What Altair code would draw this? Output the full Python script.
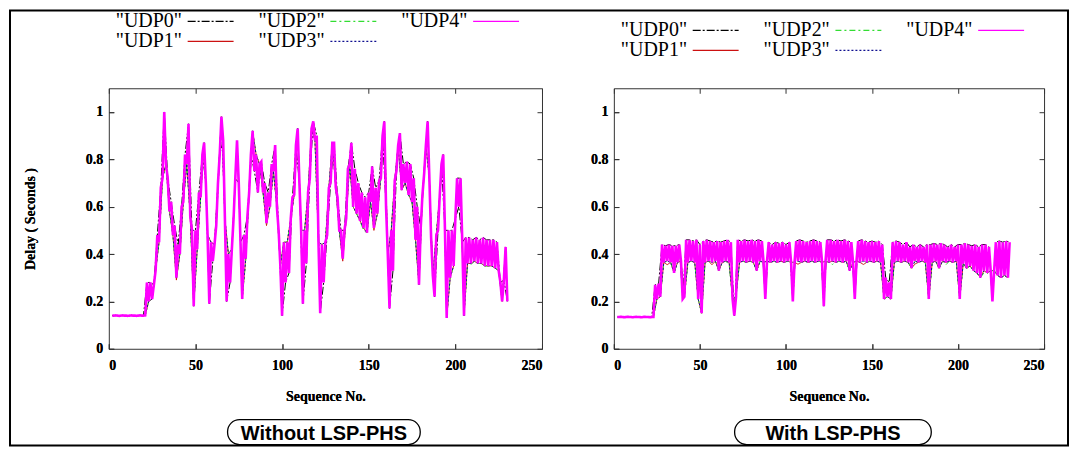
import altair as alt
import pandas as pd

# ---------------- data ----------------
SERIES = ['"UDP0"', '"UDP1"', '"UDP2"', '"UDP3"', '"UDP4"']
SERIES_COLORS = ["#000000", "#cc1111", "#33dd33", "#101090", "#ff00ff"]
SERIES_DASHES = [[8, 2, 2, 2], [1, 0], [6, 3, 2, 3], [2, 2], [1, 0]]

X_TICKS = [0, 50, 100, 150, 200, 250]
Y_TICKS = [0, 0.2, 0.4, 0.6, 0.8, 1.0]

SEQ_ALL = list(range(2, 231))       # UDP4 sample points
SEQ_EVEN = list(range(2, 231, 2))   # UDP0 sample points
SEQ_ODD = list(range(3, 230, 2))    # UDP1..UDP3 sample points

# ---- left panel: Without LSP-PHS ----
L_UDP4 = [
    0.14, 0.14, 0.141, 0.14, 0.139, 0.14, 0.141, 0.14, 0.14, 0.139,
    0.14, 0.141, 0.14, 0.14, 0.139, 0.14, 0.141, 0.14, 0.14, 0.141,
    0.28, 0.2, 0.28, 0.21, 0.27, 0.33, 0.48, 0.45, 0.68, 0.72,
    1.0, 0.78, 0.72, 0.58, 0.62, 0.48, 0.52, 0.3, 0.44, 0.4,
    0.6, 0.62, 0.82, 0.78, 0.95, 0.56, 0.5, 0.18, 0.5, 0.42,
    0.66, 0.64, 0.82, 0.87, 0.7, 0.48, 0.19, 0.45, 0.37, 0.44,
    0.52, 0.7, 0.82, 0.98, 0.88, 0.55, 0.2, 0.4, 0.28, 0.42,
    0.55, 0.72, 0.88, 0.7, 0.45, 0.21, 0.48, 0.38, 0.56, 0.66,
    0.82, 0.92, 0.75, 0.82, 0.66, 0.78, 0.79, 0.66, 0.7, 0.53,
    0.66, 0.6, 0.78, 0.75, 0.86, 0.6, 0.5, 0.35, 0.14, 0.45,
    0.28, 0.45, 0.32, 0.55, 0.64, 0.65, 0.86, 0.93, 0.7, 0.5,
    0.19, 0.5, 0.36, 0.66, 0.72, 0.93, 0.96, 0.88, 0.9, 0.45,
    0.15, 0.44, 0.28, 0.45, 0.48, 0.68, 0.7, 0.87, 0.87, 0.68,
    0.64, 0.5, 0.5, 0.38, 0.5, 0.55, 0.76, 0.78, 0.87, 0.6,
    0.76, 0.57, 0.7, 0.54, 0.66, 0.51, 0.64, 0.49, 0.66, 0.62,
    0.77, 0.51, 0.68, 0.57, 0.71, 0.72, 0.9, 0.96, 0.6, 0.4,
    0.17, 0.5, 0.33, 0.71, 0.75, 0.86, 0.91, 0.67, 0.78, 0.7,
    0.79, 0.65, 0.78, 0.62, 0.72, 0.46, 0.6, 0.27, 0.51, 0.65,
    0.74, 0.86, 0.96, 0.72, 0.47, 0.31, 0.22, 0.48, 0.5, 0.65,
    0.78, 0.82, 0.5, 0.13, 0.5, 0.3, 0.5, 0.35, 0.55, 0.72,
    0.6, 0.72, 0.45, 0.14, 0.47, 0.36, 0.47, 0.36, 0.46, 0.37,
    0.47, 0.36, 0.46, 0.36, 0.47, 0.35, 0.46, 0.35, 0.46, 0.35,
    0.46, 0.34, 0.45, 0.33, 0.28, 0.2, 0.29, 0.43, 0.2,
]
L_UDP0 = [
    0.14, 0.141, 0.139, 0.141, 0.14, 0.14, 0.14, 0.139, 0.141, 0.14,
    0.28, 0.28, 0.27, 0.48, 0.68, 1.0, 0.72, 0.62, 0.52, 0.44,
    0.6, 0.82, 0.95, 0.5, 0.5, 0.66, 0.82, 0.7, 0.19, 0.37,
    0.52, 0.82, 0.88, 0.2, 0.28, 0.55, 0.88, 0.45, 0.48, 0.56,
    0.82, 0.75, 0.66, 0.79, 0.7, 0.66, 0.78, 0.86, 0.5, 0.14,
    0.28, 0.32, 0.64, 0.86, 0.7, 0.19, 0.36, 0.72, 0.96, 0.9,
    0.15, 0.28, 0.48, 0.7, 0.87, 0.64, 0.5, 0.5, 0.76, 0.87,
    0.76, 0.7, 0.66, 0.64, 0.66, 0.77, 0.68, 0.71, 0.9, 0.6,
    0.17, 0.33, 0.75, 0.91, 0.78, 0.79, 0.78, 0.72, 0.6, 0.51,
    0.74, 0.96, 0.47, 0.22, 0.5, 0.78, 0.5, 0.5, 0.5, 0.55,
    0.6, 0.45, 0.47, 0.47, 0.46, 0.47, 0.46, 0.47, 0.46, 0.46,
    0.46, 0.45, 0.28, 0.29, 0.2,
]
L_UDP1 = [
    0.14, 0.14, 0.14, 0.14, 0.139, 0.141, 0.14, 0.14, 0.14, 0.141,
    0.2, 0.21, 0.33, 0.45, 0.72, 0.78, 0.58, 0.48, 0.29, 0.4,
    0.62, 0.78, 0.56, 0.18, 0.42, 0.64, 0.87, 0.48, 0.45, 0.44,
    0.7, 0.98, 0.55, 0.4, 0.42, 0.72, 0.7, 0.21, 0.38, 0.66,
    0.92, 0.82, 0.78, 0.66, 0.52, 0.6, 0.75, 0.6, 0.35, 0.45,
    0.45, 0.55, 0.65, 0.93, 0.5, 0.5, 0.66, 0.93, 0.88, 0.45,
    0.44, 0.45, 0.68, 0.87, 0.68, 0.5, 0.37, 0.55, 0.78, 0.6,
    0.57, 0.54, 0.51, 0.49, 0.62, 0.5, 0.57, 0.72, 0.96, 0.4,
    0.5, 0.71, 0.86, 0.67, 0.7, 0.65, 0.62, 0.46, 0.27, 0.65,
    0.86, 0.72, 0.31, 0.48, 0.65, 0.82, 0.13, 0.3, 0.35, 0.72,
    0.72, 0.14, 0.36, 0.36, 0.37, 0.36, 0.36, 0.35, 0.35, 0.35,
    0.34, 0.33, 0.2, 0.43,
]
L_UDP2 = [
    0.14, 0.14, 0.14, 0.14, 0.139, 0.141, 0.14, 0.14, 0.14, 0.141,
    0.2, 0.21, 0.33, 0.45, 0.72, 0.78, 0.58, 0.48, 0.3, 0.4,
    0.62, 0.78, 0.56, 0.18, 0.42, 0.64, 0.87, 0.48, 0.45, 0.44,
    0.7, 0.98, 0.55, 0.4, 0.42, 0.72, 0.7, 0.21, 0.37, 0.66,
    0.92, 0.82, 0.78, 0.66, 0.53, 0.6, 0.75, 0.6, 0.35, 0.45,
    0.45, 0.55, 0.65, 0.93, 0.5, 0.5, 0.66, 0.93, 0.88, 0.45,
    0.44, 0.45, 0.68, 0.87, 0.68, 0.5, 0.38, 0.55, 0.78, 0.6,
    0.57, 0.54, 0.5, 0.49, 0.62, 0.51, 0.57, 0.72, 0.96, 0.4,
    0.5, 0.71, 0.86, 0.67, 0.7, 0.65, 0.62, 0.46, 0.27, 0.65,
    0.86, 0.72, 0.31, 0.48, 0.65, 0.82, 0.13, 0.3, 0.35, 0.72,
    0.72, 0.14, 0.36, 0.355, 0.37, 0.36, 0.36, 0.35, 0.35, 0.35,
    0.34, 0.33, 0.2, 0.43,
]
L_UDP3 = [
    0.14, 0.14, 0.14, 0.14, 0.139, 0.141, 0.14, 0.14, 0.14, 0.141,
    0.2, 0.21, 0.33, 0.45, 0.72, 0.78, 0.58, 0.48, 0.3, 0.4,
    0.62, 0.78, 0.56, 0.18, 0.42, 0.64, 0.87, 0.48, 0.45, 0.44,
    0.7, 0.98, 0.55, 0.4, 0.42, 0.72, 0.7, 0.21, 0.38, 0.66,
    0.92, 0.82, 0.78, 0.66, 0.53, 0.6, 0.75, 0.6, 0.35, 0.45,
    0.45, 0.55, 0.65, 0.93, 0.5, 0.5, 0.66, 0.93, 0.88, 0.45,
    0.44, 0.45, 0.68, 0.87, 0.68, 0.5, 0.38, 0.55, 0.78, 0.6,
    0.57, 0.54, 0.51, 0.49, 0.62, 0.51, 0.57, 0.72, 0.96, 0.4,
    0.5, 0.71, 0.86, 0.67, 0.7, 0.65, 0.62, 0.46, 0.27, 0.65,
    0.86, 0.72, 0.31, 0.48, 0.65, 0.82, 0.13, 0.3, 0.35, 0.72,
    0.72, 0.14, 0.36, 0.36, 0.37, 0.36, 0.36, 0.35, 0.35, 0.35,
    0.34, 0.33, 0.2, 0.43,
]

# ---- right panel: With LSP-PHS ----
R_UDP4 = [
    0.134, 0.134, 0.135, 0.134, 0.133, 0.134, 0.135, 0.134, 0.134, 0.133,
    0.134, 0.135, 0.134, 0.134, 0.133, 0.134, 0.135, 0.134, 0.134, 0.133,
    0.134, 0.134, 0.27, 0.21, 0.275, 0.22, 0.44, 0.365, 0.435, 0.37,
    0.44, 0.365, 0.435, 0.32, 0.435, 0.365, 0.44, 0.37, 0.21, 0.22,
    0.46, 0.365, 0.46, 0.37, 0.455, 0.365, 0.46, 0.21, 0.44, 0.15,
    0.455, 0.365, 0.46, 0.37, 0.455, 0.365, 0.45, 0.37, 0.455, 0.33,
    0.45, 0.365, 0.455, 0.37, 0.46, 0.365, 0.45, 0.21, 0.14, 0.22,
    0.46, 0.365, 0.455, 0.37, 0.46, 0.365, 0.455, 0.37, 0.46, 0.365,
    0.455, 0.33, 0.46, 0.37, 0.455, 0.365, 0.21, 0.37, 0.45, 0.365,
    0.44, 0.37, 0.45, 0.365, 0.445, 0.37, 0.45, 0.365, 0.44, 0.37,
    0.45, 0.365, 0.2, 0.365, 0.455, 0.37, 0.46, 0.365, 0.455, 0.37,
    0.45, 0.365, 0.455, 0.37, 0.46, 0.365, 0.455, 0.37, 0.45, 0.365,
    0.18, 0.37, 0.46, 0.365, 0.46, 0.37, 0.455, 0.365, 0.46, 0.37,
    0.455, 0.365, 0.46, 0.37, 0.455, 0.33, 0.45, 0.365, 0.21, 0.37,
    0.455, 0.365, 0.46, 0.37, 0.455, 0.365, 0.45, 0.37, 0.455, 0.365,
    0.45, 0.37, 0.455, 0.365, 0.44, 0.21, 0.3, 0.22, 0.28, 0.21,
    0.45, 0.365, 0.455, 0.37, 0.45, 0.365, 0.44, 0.37, 0.45, 0.365,
    0.43, 0.34, 0.44, 0.37, 0.43, 0.365, 0.44, 0.37, 0.43, 0.365,
    0.44, 0.21, 0.44, 0.365, 0.445, 0.37, 0.44, 0.34, 0.445, 0.37,
    0.44, 0.365, 0.43, 0.37, 0.44, 0.365, 0.43, 0.37, 0.44, 0.21,
    0.44, 0.36, 0.445, 0.34, 0.44, 0.35, 0.435, 0.33, 0.44, 0.32,
    0.43, 0.3, 0.44, 0.33, 0.44, 0.32, 0.43, 0.33, 0.2, 0.33,
    0.45, 0.31, 0.455, 0.3, 0.45, 0.31, 0.455, 0.3, 0.45,
]
R_UDP0 = [
    0.134, 0.135, 0.133, 0.135, 0.134, 0.134, 0.134, 0.133, 0.135, 0.134,
    0.134, 0.27, 0.275, 0.44, 0.435, 0.44, 0.435, 0.435, 0.44, 0.21,
    0.46, 0.46, 0.455, 0.46, 0.44, 0.455, 0.46, 0.455, 0.45, 0.455,
    0.45, 0.455, 0.46, 0.45, 0.14, 0.46, 0.455, 0.46, 0.455, 0.46,
    0.455, 0.46, 0.455, 0.21, 0.45, 0.44, 0.45, 0.445, 0.45, 0.44,
    0.45, 0.2, 0.455, 0.46, 0.455, 0.45, 0.455, 0.46, 0.455, 0.45,
    0.18, 0.46, 0.46, 0.455, 0.46, 0.455, 0.46, 0.455, 0.45, 0.21,
    0.455, 0.46, 0.455, 0.45, 0.455, 0.45, 0.455, 0.44, 0.3, 0.28,
    0.45, 0.455, 0.45, 0.44, 0.45, 0.43, 0.44, 0.43, 0.44, 0.43,
    0.44, 0.44, 0.445, 0.44, 0.445, 0.44, 0.43, 0.44, 0.43, 0.44,
    0.44, 0.445, 0.44, 0.435, 0.44, 0.43, 0.44, 0.44, 0.43, 0.2,
    0.45, 0.455, 0.45, 0.455, 0.45,
]
R_UDP1 = [
    0.134, 0.134, 0.134, 0.134, 0.133, 0.135, 0.134, 0.134, 0.134, 0.133,
    0.134, 0.21, 0.22, 0.365, 0.355, 0.365, 0.32, 0.365, 0.37, 0.22,
    0.365, 0.37, 0.365, 0.21, 0.15, 0.365, 0.37, 0.355, 0.37, 0.33,
    0.365, 0.37, 0.365, 0.21, 0.22, 0.365, 0.37, 0.365, 0.37, 0.365,
    0.33, 0.37, 0.365, 0.37, 0.365, 0.37, 0.365, 0.37, 0.365, 0.37,
    0.365, 0.365, 0.357, 0.365, 0.37, 0.365, 0.37, 0.365, 0.37, 0.365,
    0.37, 0.365, 0.37, 0.365, 0.37, 0.365, 0.37, 0.33, 0.365, 0.37,
    0.365, 0.356, 0.365, 0.37, 0.365, 0.37, 0.365, 0.21, 0.22, 0.21,
    0.365, 0.37, 0.365, 0.37, 0.365, 0.34, 0.358, 0.365, 0.37, 0.365,
    0.21, 0.365, 0.37, 0.34, 0.37, 0.365, 0.37, 0.365, 0.37, 0.21,
    0.36, 0.34, 0.35, 0.33, 0.32, 0.3, 0.33, 0.32, 0.33, 0.33,
    0.31, 0.3, 0.31, 0.3,
]
R_UDP2 = [
    0.134, 0.134, 0.134, 0.134, 0.133, 0.135, 0.134, 0.134, 0.134, 0.133,
    0.134, 0.21, 0.22, 0.365, 0.37, 0.365, 0.32, 0.365, 0.37, 0.22,
    0.365, 0.37, 0.365, 0.21, 0.15, 0.365, 0.37, 0.365, 0.37, 0.33,
    0.365, 0.37, 0.355, 0.21, 0.22, 0.365, 0.37, 0.365, 0.37, 0.365,
    0.33, 0.37, 0.365, 0.37, 0.365, 0.37, 0.365, 0.37, 0.365, 0.37,
    0.365, 0.365, 0.37, 0.365, 0.37, 0.365, 0.37, 0.365, 0.37, 0.365,
    0.37, 0.365, 0.356, 0.365, 0.37, 0.365, 0.37, 0.33, 0.365, 0.37,
    0.365, 0.37, 0.365, 0.37, 0.365, 0.37, 0.365, 0.21, 0.22, 0.21,
    0.365, 0.37, 0.365, 0.37, 0.365, 0.34, 0.37, 0.365, 0.37, 0.365,
    0.21, 0.365, 0.37, 0.34, 0.37, 0.355, 0.37, 0.365, 0.37, 0.21,
    0.36, 0.34, 0.35, 0.33, 0.32, 0.3, 0.32, 0.32, 0.33, 0.33,
    0.31, 0.3, 0.31, 0.3,
]
R_UDP3 = [
    0.134, 0.134, 0.134, 0.134, 0.133, 0.135, 0.134, 0.134, 0.134, 0.133,
    0.134, 0.21, 0.22, 0.365, 0.37, 0.365, 0.32, 0.365, 0.37, 0.22,
    0.365, 0.37, 0.365, 0.21, 0.15, 0.365, 0.37, 0.365, 0.37, 0.33,
    0.365, 0.37, 0.365, 0.21, 0.22, 0.365, 0.37, 0.365, 0.37, 0.365,
    0.33, 0.37, 0.365, 0.37, 0.365, 0.37, 0.365, 0.37, 0.365, 0.37,
    0.365, 0.365, 0.37, 0.365, 0.37, 0.365, 0.37, 0.365, 0.37, 0.365,
    0.37, 0.365, 0.37, 0.365, 0.37, 0.365, 0.37, 0.33, 0.365, 0.37,
    0.365, 0.37, 0.365, 0.37, 0.365, 0.37, 0.365, 0.21, 0.22, 0.21,
    0.365, 0.37, 0.365, 0.37, 0.365, 0.34, 0.37, 0.365, 0.37, 0.365,
    0.21, 0.365, 0.37, 0.34, 0.37, 0.365, 0.37, 0.365, 0.37, 0.21,
    0.36, 0.34, 0.35, 0.33, 0.32, 0.3, 0.33, 0.32, 0.33, 0.33,
    0.31, 0.3, 0.31, 0.3,
]


def long_table(u0, u1, u2, u3, u4):
    rows = []
    for name, xs, ys in [
        (SERIES[0], SEQ_EVEN, u0),
        (SERIES[1], SEQ_ODD, u1),
        (SERIES[2], SEQ_ODD, u2),
        (SERIES[3], SEQ_ODD, u3),
        (SERIES[4], SEQ_ALL, u4),
    ]:
        assert len(xs) == len(ys), (name, len(xs), len(ys))
        for x, y in zip(xs, ys):
            rows.append({"seq": x, "delay": y, "series": name})
    return pd.DataFrame(rows)


left_df = long_table(L_UDP0, L_UDP1, L_UDP2, L_UDP3, L_UDP4)
right_df = long_table(R_UDP0, R_UDP1, R_UDP2, R_UDP3, R_UDP4)

SERIF = "Liberation Serif"
SANS = "Liberation Sans"
H = 261
# legend sample line drawn to the right of its label (unit = sqrt(size)/2 = 1px)
LEGEND_SYMBOL = "M 84 0 H 130"


def panel(df, w, label, box_l, box_r, leg_x, leg_y, ytitle, frame):
    xscale = alt.Scale(domain=[0, 250], nice=False, zero=False)
    yscale = alt.Scale(domain=[0, 1.1], nice=False)
    legend = alt.Legend(
        title=None, orient="none", legendX=leg_x, legendY=leg_y, columns=3,
        symbolType=LEGEND_SYMBOL, symbolSize=4, symbolStrokeWidth=1.2,
        labelOffset=2, labelFont=SERIF, labelFontSize=20, labelColor="black",
        columnPadding=0, rowPadding=0, padding=0,
    )
    yaxis_kw = dict(
        orient="left", values=Y_TICKS, format="~g", offset=-5, tickSize=5,
        labelPadding=6, domain=False, grid=False,
    )
    if ytitle:
        yaxis_kw.update(title=ytitle, titlePadding=48)
    x_enc = alt.X("seq:Q", scale=xscale, title="Sequence No.",
                  axis=alt.Axis(orient="bottom", values=X_TICKS, offset=-5, tickSize=5,
                                labelPadding=10, titlePadding=17, domain=False, grid=False))
    y_enc = alt.Y("delay:Q", scale=yscale, title=ytitle if ytitle else None,
                  axis=alt.Axis(**yaxis_kw))
    c_scale = alt.Scale(domain=SERIES, range=SERIES_COLORS)
    d_scale = alt.Scale(domain=SERIES, range=SERIES_DASHES)
    under = alt.Chart(df[df["series"] != SERIES[4]]).mark_line(
        strokeWidth=1.0, clip=True).encode(
        x=x_enc, y=y_enc,
        color=alt.Color("series:N", scale=c_scale, legend=legend),
        strokeDash=alt.StrokeDash("series:N", scale=d_scale, legend=legend))
    top = alt.Chart(df[df["series"] == SERIES[4]]).mark_line(
        strokeWidth=2.6, clip=True).encode(
        x=x_enc, y=y_enc,
        color=alt.Color("series:N", scale=c_scale, legend=None),
        strokeDash=alt.StrokeDash("series:N", scale=d_scale, legend=None))
    mirror = alt.Chart(df).mark_line(opacity=0).encode(
        x=alt.X("seq:Q", scale=xscale, title=None,
                axis=alt.Axis(orient="top", values=X_TICKS, labels=False, offset=-5,
                              tickSize=5, domain=False, grid=False)),
        y=alt.Y("delay:Q", scale=yscale, title=None,
                axis=alt.Axis(orient="right", values=Y_TICKS, labels=False, offset=-5,
                              tickSize=5, domain=False, grid=False)),
    )
    lab = pd.DataFrame({"label": [label]})
    box = alt.Chart(lab).mark_rect(fill="white", stroke="black", strokeWidth=1.3,
                                   cornerRadius=12).encode(
        x=alt.value(box_l), x2=alt.value(box_r), y=alt.value(332), y2=alt.value(357))
    txt = alt.Chart(lab).mark_text(font=SANS, fontWeight="bold", fontSize=20,
                                   align="center", baseline="middle", color="black").encode(
        text="label:N", x=alt.value((box_l + box_r) / 2), y=alt.value(346))
    layers = [under, top, mirror, box, txt]
    if frame:
        fr = alt.Chart(lab).mark_rect(fillOpacity=0, stroke="black", strokeWidth=2).encode(
            x=alt.value(-99), x2=alt.value(961), y=alt.value(-78), y2=alt.value(358))
        layers.append(fr)
    return alt.layer(*layers).resolve_axis(x="independent", y="independent").properties(
        width=w, height=H)


left = panel(left_df, 434, "Without LSP-PHS", 119, 312, -15, -77, "Delay ( Seconds )", True)
right = panel(right_df, 431, "With LSP-PHS", 121, 318, -15, -68, "", False)

chart = alt.hconcat(left, right, spacing=72, bounds="flush", padding=0).resolve_scale(
    color="independent", strokeDash="independent"
).resolve_legend(
    color="independent", strokeDash="independent"
).configure(
    background="white"
).configure_view(
    stroke="#333333", strokeWidth=1
).configure_axis(
    labelFont=SERIF, labelFontWeight="bold", labelFontSize=14, labelColor="black",
    titleFont=SERIF, titleFontWeight="bold", titleFontSize=14, titleColor="black",
    tickColor="#333333", tickWidth=1,
)

chart.save("out.html", embed_options={"renderer": "svg", "actions": False})
